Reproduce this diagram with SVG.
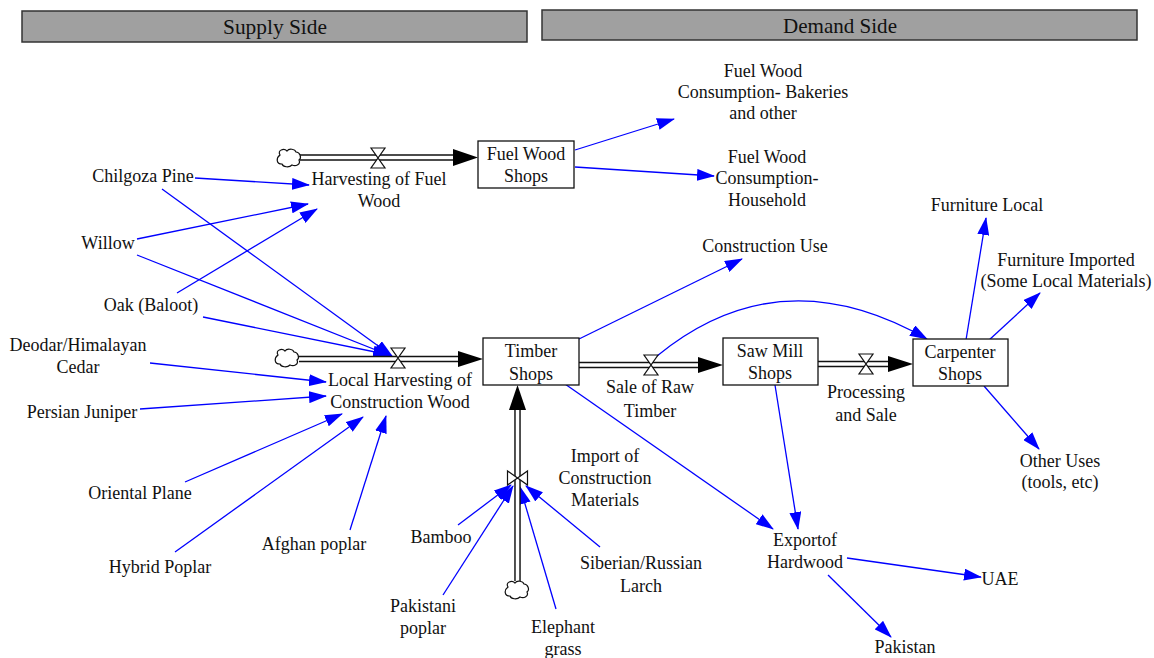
<svg xmlns="http://www.w3.org/2000/svg" width="1154" height="658" viewBox="0 0 1154 658">
<style>
text{font-family:"Liberation Serif","Times New Roman",serif;font-size:18px;fill:#111;text-anchor:middle}
.hdr{fill:#a0a0a0;stroke:#333;stroke-width:1.5}
.hdrt{font-size:21px}
.box{fill:#fff;stroke:#111;stroke-width:1.3}
.link{fill:none;stroke:#0000ff;stroke-width:1.3;marker-end:url(#ba)}
.pipeo{stroke:#111;stroke-width:6.5;fill:none}
.pipei{stroke:#fff;stroke-width:3.6;fill:none}
.valve{fill:#fff;stroke:#111;stroke-width:1.2}
.cloud{fill:#fff;stroke:#111;stroke-width:1.2}
.head{fill:#000}
</style>
<defs>
<marker id="ba" markerUnits="userSpaceOnUse" markerWidth="18" markerHeight="12" viewBox="0 0 18 12" refX="17" refY="6" orient="auto">
<path d="M0,0 L18,6 L0,12 Z" fill="#0000ff"/>
</marker>
<path id="cl" d="M-9,-3 C-12,-8 -5,-10 -2,-7 C0,-10 6,-9 7,-6 C11,-6 13,0 10,2 C12,6 7,9 3,7 C0,10 -6,9 -7,6 C-13,6 -13,0 -9,-3 Z"/>
<path id="vh" d="M-7,-10 L7,-10 L-7,10 L7,10 Z"/>
</defs>

<g id="headers">
<rect class="hdr" x="22" y="11" width="505" height="31"/>
<text class="hdrt" x="275" y="34" textLength="104" lengthAdjust="spacingAndGlyphs">Supply Side</text>
<rect class="hdr" x="542" y="10" width="595" height="30"/>
<text class="hdrt" x="840" y="33" textLength="114" lengthAdjust="spacingAndGlyphs">Demand Side</text>
</g>

<g id="connectors">
<path class="link" d="M195,178 L309,185"/>
<path class="link" d="M137,239 L308,204"/>
<path class="link" d="M177,293 L317,209"/>
<path class="link" d="M162,189 L392,356"/>
<path class="link" d="M137,255 L391,356"/>
<path class="link" d="M203,317 L390,355"/>
<path class="link" d="M150,363 L326,382"/>
<path class="link" d="M140,409 L326,396"/>
<path class="link" d="M185,482 L342,414"/>
<path class="link" d="M175,552 L363,417"/>
<path class="link" d="M350,530 L386,416"/>
<path class="link" d="M458,525 L511,485"/>
<path class="link" d="M443,595 L513,486"/>
<path class="link" d="M556,609 L520,487"/>
<path class="link" d="M600,547 L526,486"/>
<path class="link" d="M575,150 L674,119"/>
<path class="link" d="M575,167 L714,176"/>
<path class="link" d="M579,339 L742,259"/>
<path class="link" d="M565,384 L773,529"/>
<path class="link" d="M775,385 L798,529"/>
<path class="link" d="M657,356 Q780,255 927,339"/>
<path class="link" d="M966,340 L986,218"/>
<path class="link" d="M988,341 L1040,293"/>
<path class="link" d="M984,386 L1039,449"/>
<path class="link" d="M847,558 L981,577"/>
<path class="link" d="M828,575 L891,637"/>
</g>

<g id="flow-fuel">
<path class="pipeo" d="M300,157.5 H456"/>
<path class="pipei" d="M298,157.5 H455"/>
<polygon class="head" points="453,149 478,157.5 453,166"/>
<use href="#cl" class="cloud" x="289" y="158"/>
<use href="#vh" class="valve" x="378" y="158"/>
<text x="379" y="185">Harvesting of Fuel</text>
<text x="379" y="207">Wood</text>
</g>

<g id="flow-local">
<path class="pipeo" d="M299,359 H460"/>
<path class="pipei" d="M297,359 H459"/>
<polygon class="head" points="458,351 483,359 458,367"/>
<use href="#cl" class="cloud" x="287" y="358"/>
<use href="#vh" class="valve" x="398" y="358"/>
<text x="400" y="386">Local Harvesting of</text>
<text x="400" y="408">Construction Wood</text>
</g>

<g id="flow-import">
<path class="pipeo" d="M517.5,581 V407"/>
<path class="pipei" d="M517.5,583 V408"/>
<polygon class="head" points="509,410 517.5,385 526,410"/>
<use href="#cl" class="cloud" x="517" y="590"/>
<use href="#vh" class="valve" transform="translate(517.5,478) rotate(90)"/>
<text x="605" y="462">Import of</text>
<text x="605" y="484">Construction</text>
<text x="605" y="506">Materials</text>
</g>

<g id="flow-sale">
<path class="pipeo" d="M579,365 H700"/>
<path class="pipei" d="M577,365 H699"/>
<polygon class="head" points="698,357 723,365 698,373"/>
<use href="#vh" class="valve" x="651" y="365"/>
<text x="650" y="393">Sale of Raw</text>
<text x="650" y="417">Timber</text>
</g>

<g id="flow-processing">
<path class="pipeo" d="M818,364 H890"/>
<path class="pipei" d="M816,364 H889"/>
<polygon class="head" points="888,356 913,364 888,372"/>
<use href="#vh" class="valve" x="866" y="364"/>
<text x="866" y="398">Processing</text>
<text x="866" y="421">and Sale</text>
</g>

<g id="fuel-wood-shops">
<rect class="box" x="478" y="141" width="96" height="47"/>
<text x="526" y="160">Fuel Wood</text>
<text x="526" y="182">Shops</text>
</g>
<g id="timber-shops">
<rect class="box" x="483" y="338" width="96" height="47"/>
<text x="531" y="357">Timber</text>
<text x="531" y="380">Shops</text>
</g>
<g id="saw-mill-shops">
<rect class="box" x="723" y="338" width="95" height="47"/>
<text x="770" y="357">Saw Mill</text>
<text x="770" y="379">Shops</text>
</g>
<g id="carpenter-shops">
<rect class="box" x="913" y="339" width="95" height="47"/>
<text x="960" y="358">Carpenter</text>
<text x="960" y="380">Shops</text>
</g>

<g id="chilgoza-pine"><text x="143" y="182">Chilgoza Pine</text></g>
<g id="willow"><text x="108" y="249">Willow</text></g>
<g id="oak"><text x="151" y="311">Oak (Baloot)</text></g>
<g id="deodar"><text x="78" y="351">Deodar/Himalayan</text><text x="78" y="373">Cedar</text></g>
<g id="persian-juniper"><text x="82" y="418">Persian Juniper</text></g>
<g id="oriental-plane"><text x="140" y="499">Oriental Plane</text></g>
<g id="hybrid-poplar"><text x="160" y="573">Hybrid Poplar</text></g>
<g id="afghan-poplar"><text x="314" y="550">Afghan poplar</text></g>
<g id="bamboo"><text x="441" y="543">Bamboo</text></g>
<g id="pakistani-poplar"><text x="423" y="612">Pakistani</text><text x="423" y="634">poplar</text></g>
<g id="elephant-grass"><text x="563" y="633">Elephant</text><text x="563" y="655">grass</text></g>
<g id="siberian-larch"><text x="641" y="569">Siberian/Russian</text><text x="641" y="592">Larch</text></g>

<g id="fw-bakeries"><text x="763" y="77">Fuel Wood</text><text x="763" y="98">Consumption- Bakeries</text><text x="763" y="119">and other</text></g>
<g id="fw-household"><text x="767" y="163">Fuel Wood</text><text x="767" y="184">Consumption-</text><text x="767" y="206">Household</text></g>
<g id="construction-use"><text x="765" y="252">Construction Use</text></g>
<g id="furniture-local"><text x="987" y="211">Furniture Local</text></g>
<g id="furniture-imported"><text x="1066" y="266">Furniture Imported</text><text x="1066" y="287">(Some Local Materials)</text></g>
<g id="other-uses"><text x="1060" y="467">Other Uses</text><text x="1060" y="488">(tools, etc)</text></g>
<g id="export-hardwood"><text x="805" y="546">Exportof</text><text x="805" y="568">Hardwood</text></g>
<g id="uae"><text x="1000" y="585">UAE</text></g>
<g id="pakistan"><text x="905" y="653">Pakistan</text></g>
</svg>
